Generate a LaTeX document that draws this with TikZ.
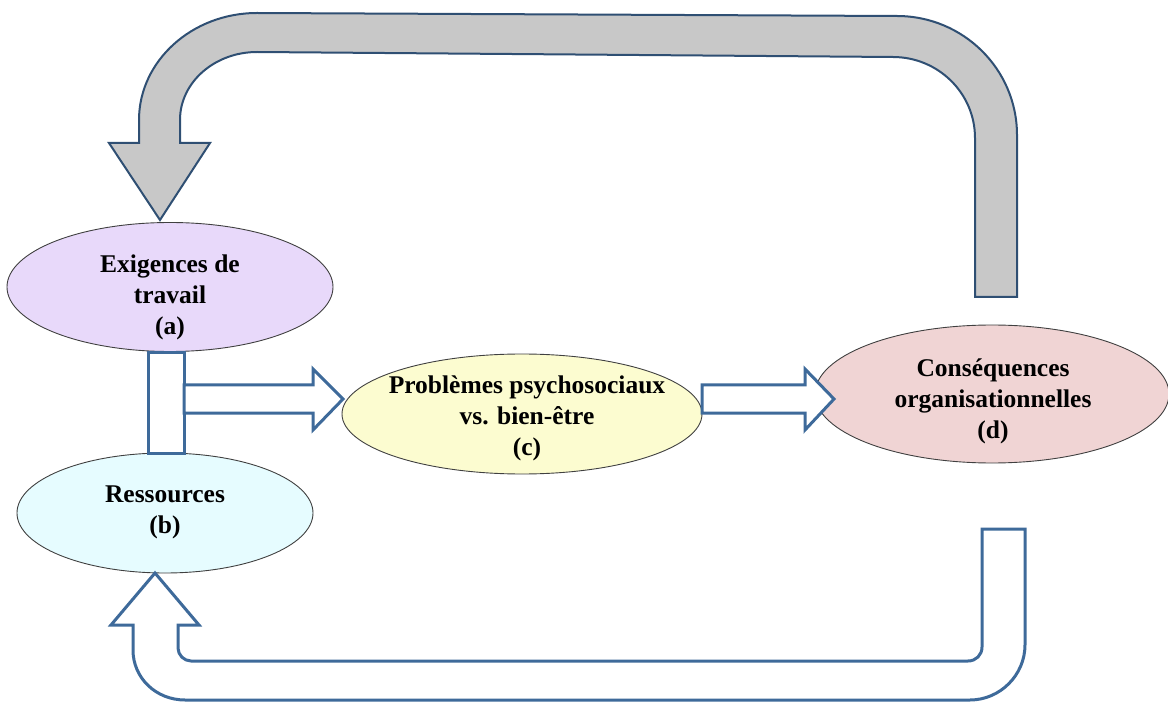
\documentclass[tikz,border=0pt]{standalone}
\usepackage{fontspec}
\setmainfont{Liberation Serif}
\usetikzlibrary{shapes.geometric}
\definecolor{ellA}{HTML}{E8D9FA}
\definecolor{ellB}{HTML}{E6FCFF}
\definecolor{ellC}{HTML}{FCFCD0}
\definecolor{ellD}{HTML}{F0D4D4}
\definecolor{grayfill}{HTML}{C8C8C8}
\definecolor{darkblue}{HTML}{2F4F73}
\definecolor{midblue}{HTML}{3E6A9A}
\definecolor{ellline}{HTML}{404040}
\tikzset{
  ell/.style={ellipse, draw=ellline, line width=0.9pt, inner sep=0pt},
  lbl/.style={align=center, inner sep=0pt, font=\bfseries\fontsize{25.5}{31}\selectfont, text=black},
  grayarrow/.style={fill=grayfill, draw=darkblue, line width=2pt, line join=miter},
  whitearrow/.style={fill=white, draw=midblue, line width=3pt, line join=miter},
}
\begin{document}
\begin{tikzpicture}[x=1pt, y=-1pt]
\useasboundingbox (0,0) rectangle (1168,703);
% ellipses
\node[ell, fill=ellA, minimum width=326pt, minimum height=129pt] (a) at (170,287) {};
\node[ell, fill=ellB, minimum width=296pt, minimum height=120pt] (b) at (165,513) {};
\node[ell, fill=ellC, minimum width=360pt, minimum height=120pt] (c) at (522,414) {};
\node[ell, fill=ellD, minimum width=354pt, minimum height=138pt] (d) at (992,394) {};
% labels
\node[lbl] (la) at (170,297) {Exigences de\\travail\\(a)};
\node[lbl] (lb) at (165,512) {Ressources\\(b)};
\node[lbl] (lc) at (527,418) {Problèmes psychosociaux\\vs. bien-être\\(c)};
\node[lbl] (ld) at (993,401) {Conséquences\\organisationnelles\\(d)};
% bar between a and b
\node[draw=midblue, fill=white, line width=3pt, minimum width=36pt, minimum height=100pt, inner sep=0pt] (bar) at (166,403) {};
% block arrow bar -> c
\draw[whitearrow] (184,385) -- (313,385) -- (313,369) -- (343,399) -- (313,430) -- (313,413) -- (184,413) -- cycle;
% block arrow c -> d
\draw[whitearrow] (702,385) -- (805,385) -- (805,369) -- (834,399) -- (805,430) -- (805,413) -- (702,413) -- cycle;
% gray feedback arrow d -> a
\draw[grayarrow] (975,297) -- (1017,297) -- (1017,135)
  .. controls (1017,69) and (963,16) .. (897,16) -- (257,13)
  .. controls (192,13) and (139,61) .. (139,120) -- (139,143) -- (109,143)
  -- (160,220) -- (210,143) -- (180,143) -- (180,120)
  .. controls (180,82) and (215,52) .. (257,52) -- (893,57)
  .. controls (938,57) and (975,93) .. (975,138) -- cycle;
% white feedback arrow d -> b
\draw[whitearrow] (982,529) -- (1025,529) -- (1025,645)
  .. controls (1025,675) and (1000,700) .. (970,700) -- (185,700)
  .. controls (156,700) and (133,678) .. (133,650) -- (133,625) -- (111,625)
  -- (155,573) -- (199,625) -- (178,625) -- (178,648)
  .. controls (178,655) and (184,661) .. (191,661) -- (968,661)
  .. controls (976,661) and (982,655) .. (982,647) -- cycle;
\end{tikzpicture}
\end{document}
